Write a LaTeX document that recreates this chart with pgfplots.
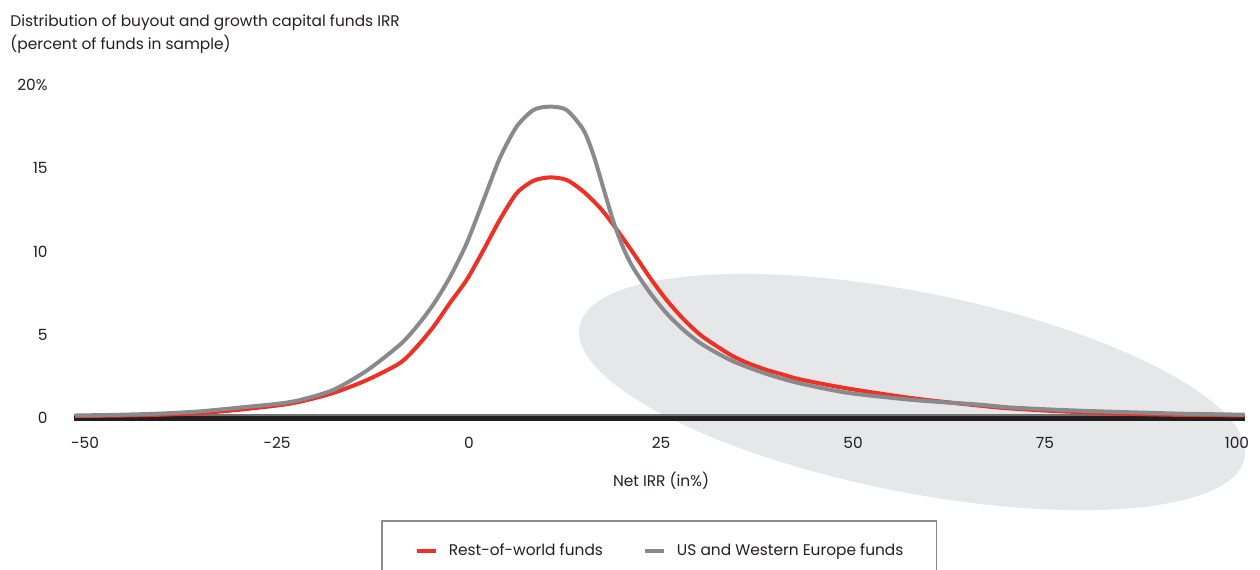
\documentclass[border=0pt]{standalone}
\usepackage{pgfplots}
\pgfplotsset{compat=1.18}
\usepackage{fontspec}
\setmainfont{Poppins}
\definecolor{rwred}{HTML}{EE3124}
\definecolor{usgray}{HTML}{8A8A8D}
\definecolor{ellfill}{HTML}{E6E7E8}
\definecolor{txt}{HTML}{231F20}
\definecolor{leggray}{HTML}{8C8C8C}
\newcommand{\lf}{\fontsize{7.7}{9}\selectfont}
\begin{document}
\begin{tikzpicture}
\begin{axis}[
  set layers,
  scale only axis,
  width=585.6pt, height=166.5pt,
  xmin=-51.5, xmax=101, ymin=0, ymax=20,
  clip=false,
  axis line style={draw=none},
  major tick length=0pt,
  xtick={-50,-25,0,25,50,75,100},
  xticklabels={-50,-25,0,25,50,75,100},
  ytick={0,5,10,15,20},
  yticklabels={0,5,10,15,20\%},
  xticklabel style={anchor=center, inner sep=0pt, yshift=-12.5pt, font=\lf, text=txt},
  yticklabel style={anchor=east, inner sep=0pt, xshift=-12.75pt, font=\lf, text=txt},
  legend columns=2,
  legend cell align=left,
  legend image code/.code={\draw[#1, line width=2pt] (0pt,0pt) -- (9.5pt,0pt);},
  legend style={at={(0.5,-0.3063)}, anchor=north, draw=leggray, line width=0.75pt,
    font=\lf, text=txt, inner xsep=16.5pt, inner ysep=11.5pt,
    nodes={inner sep=0pt},
    /tikz/every odd column/.append style={column sep=5.5pt},
    /tikz/every even column/.append style={column sep=20pt}},
]
\begin{pgfonlayer}{axis background}
\fill[ellfill] (axis cs:57.7,1.56) ellipse [x radius=169.5pt, y radius=50pt, rotate=-11.2];
\draw[black!55, line width=0.7pt] (axis cs:-51.5,0) ++(0pt,1.5pt) -- ++(585.6pt,0pt);
\draw[txt, line width=2.5pt] (axis cs:-51.5,0) -- (axis cs:101,0);
\end{pgfonlayer}
\addplot[rwred, line width=2pt, smooth, tension=0.45] table {
x y
-51.3 0.12
-45 0.15
-40 0.2
-35 0.3
-30.7 0.46
-25 0.75
-22 0.98
-17.7 1.5
-13.3 2.28
-9 3.3
-6.8 4.28
-4.6 5.5
-2.5 6.9
-0.3 8.3
1.9 10.1
4 11.9
6.2 13.5
8.4 14.25
10.5 14.45
12.7 14.3
14.9 13.6
17.1 12.6
18.8 11.6
21.4 9.9
23.6 8.4
25.7 7.1
27.9 5.95
30.1 5.0
32.3 4.3
34.4 3.7
36.6 3.24
38.8 2.88
40.5 2.66
43.1 2.32
49.2 1.78
57.9 1.18
66.5 0.74
70.3 0.58
76.2 0.42
82 0.31
87.9 0.23
93.7 0.18
101 0.16
};
\addlegendentry{Rest-of-world funds}
\addplot[usgray, line width=2pt, smooth, tension=0.45] table {
x y
-51.3 0.15
-45 0.2
-40 0.27
-35 0.4
-30 0.62
-25 0.85
-22 1.08
-17.7 1.68
-13.3 2.85
-9 4.4
-6.8 5.5
-4.6 6.85
-2.5 8.45
-0.3 10.5
1.9 13.1
4 15.6
6.2 17.5
8.4 18.5
10.5 18.7
12.7 18.5
14.9 17.3
16.2 15.8
17.5 13.8
18.8 11.8
20.1 10.2
21.4 9.0
23.6 7.5
25.7 6.3
27.9 5.3
30.1 4.5
32.3 3.9
34.4 3.4
36.6 3.0
38.8 2.64
40.5 2.4
43.1 2.08
49.2 1.52
57.9 1.08
66.5 0.8
70.3 0.64
76.2 0.5
82 0.4
87.9 0.32
93.7 0.25
101 0.2
};
\addlegendentry{US and Western Europe funds}
\coordinate (o) at (axis cs:-51.5,0);
\node[font=\lf, text=txt, inner sep=0pt] at ([yshift=-31.5pt]axis cs:25,0) {Net IRR (in\%)};
\end{axis}
\node[anchor=base west, inner sep=0pt, font=\lf, text=txt] at ([xshift=-31.75pt, yshift=196pt]o) {Distribution of buyout and growth capital funds IRR};
\node[anchor=base west, inner sep=0pt, font=\lf, text=txt] at ([xshift=-31.75pt, yshift=184.5pt]o) {(percent of funds in sample)};
\pgfresetboundingbox
\useasboundingbox ([xshift=-36.75pt, yshift=209pt]o) rectangle ([xshift=593.25pt, yshift=-75.5pt]o);
\end{tikzpicture}
\end{document}
